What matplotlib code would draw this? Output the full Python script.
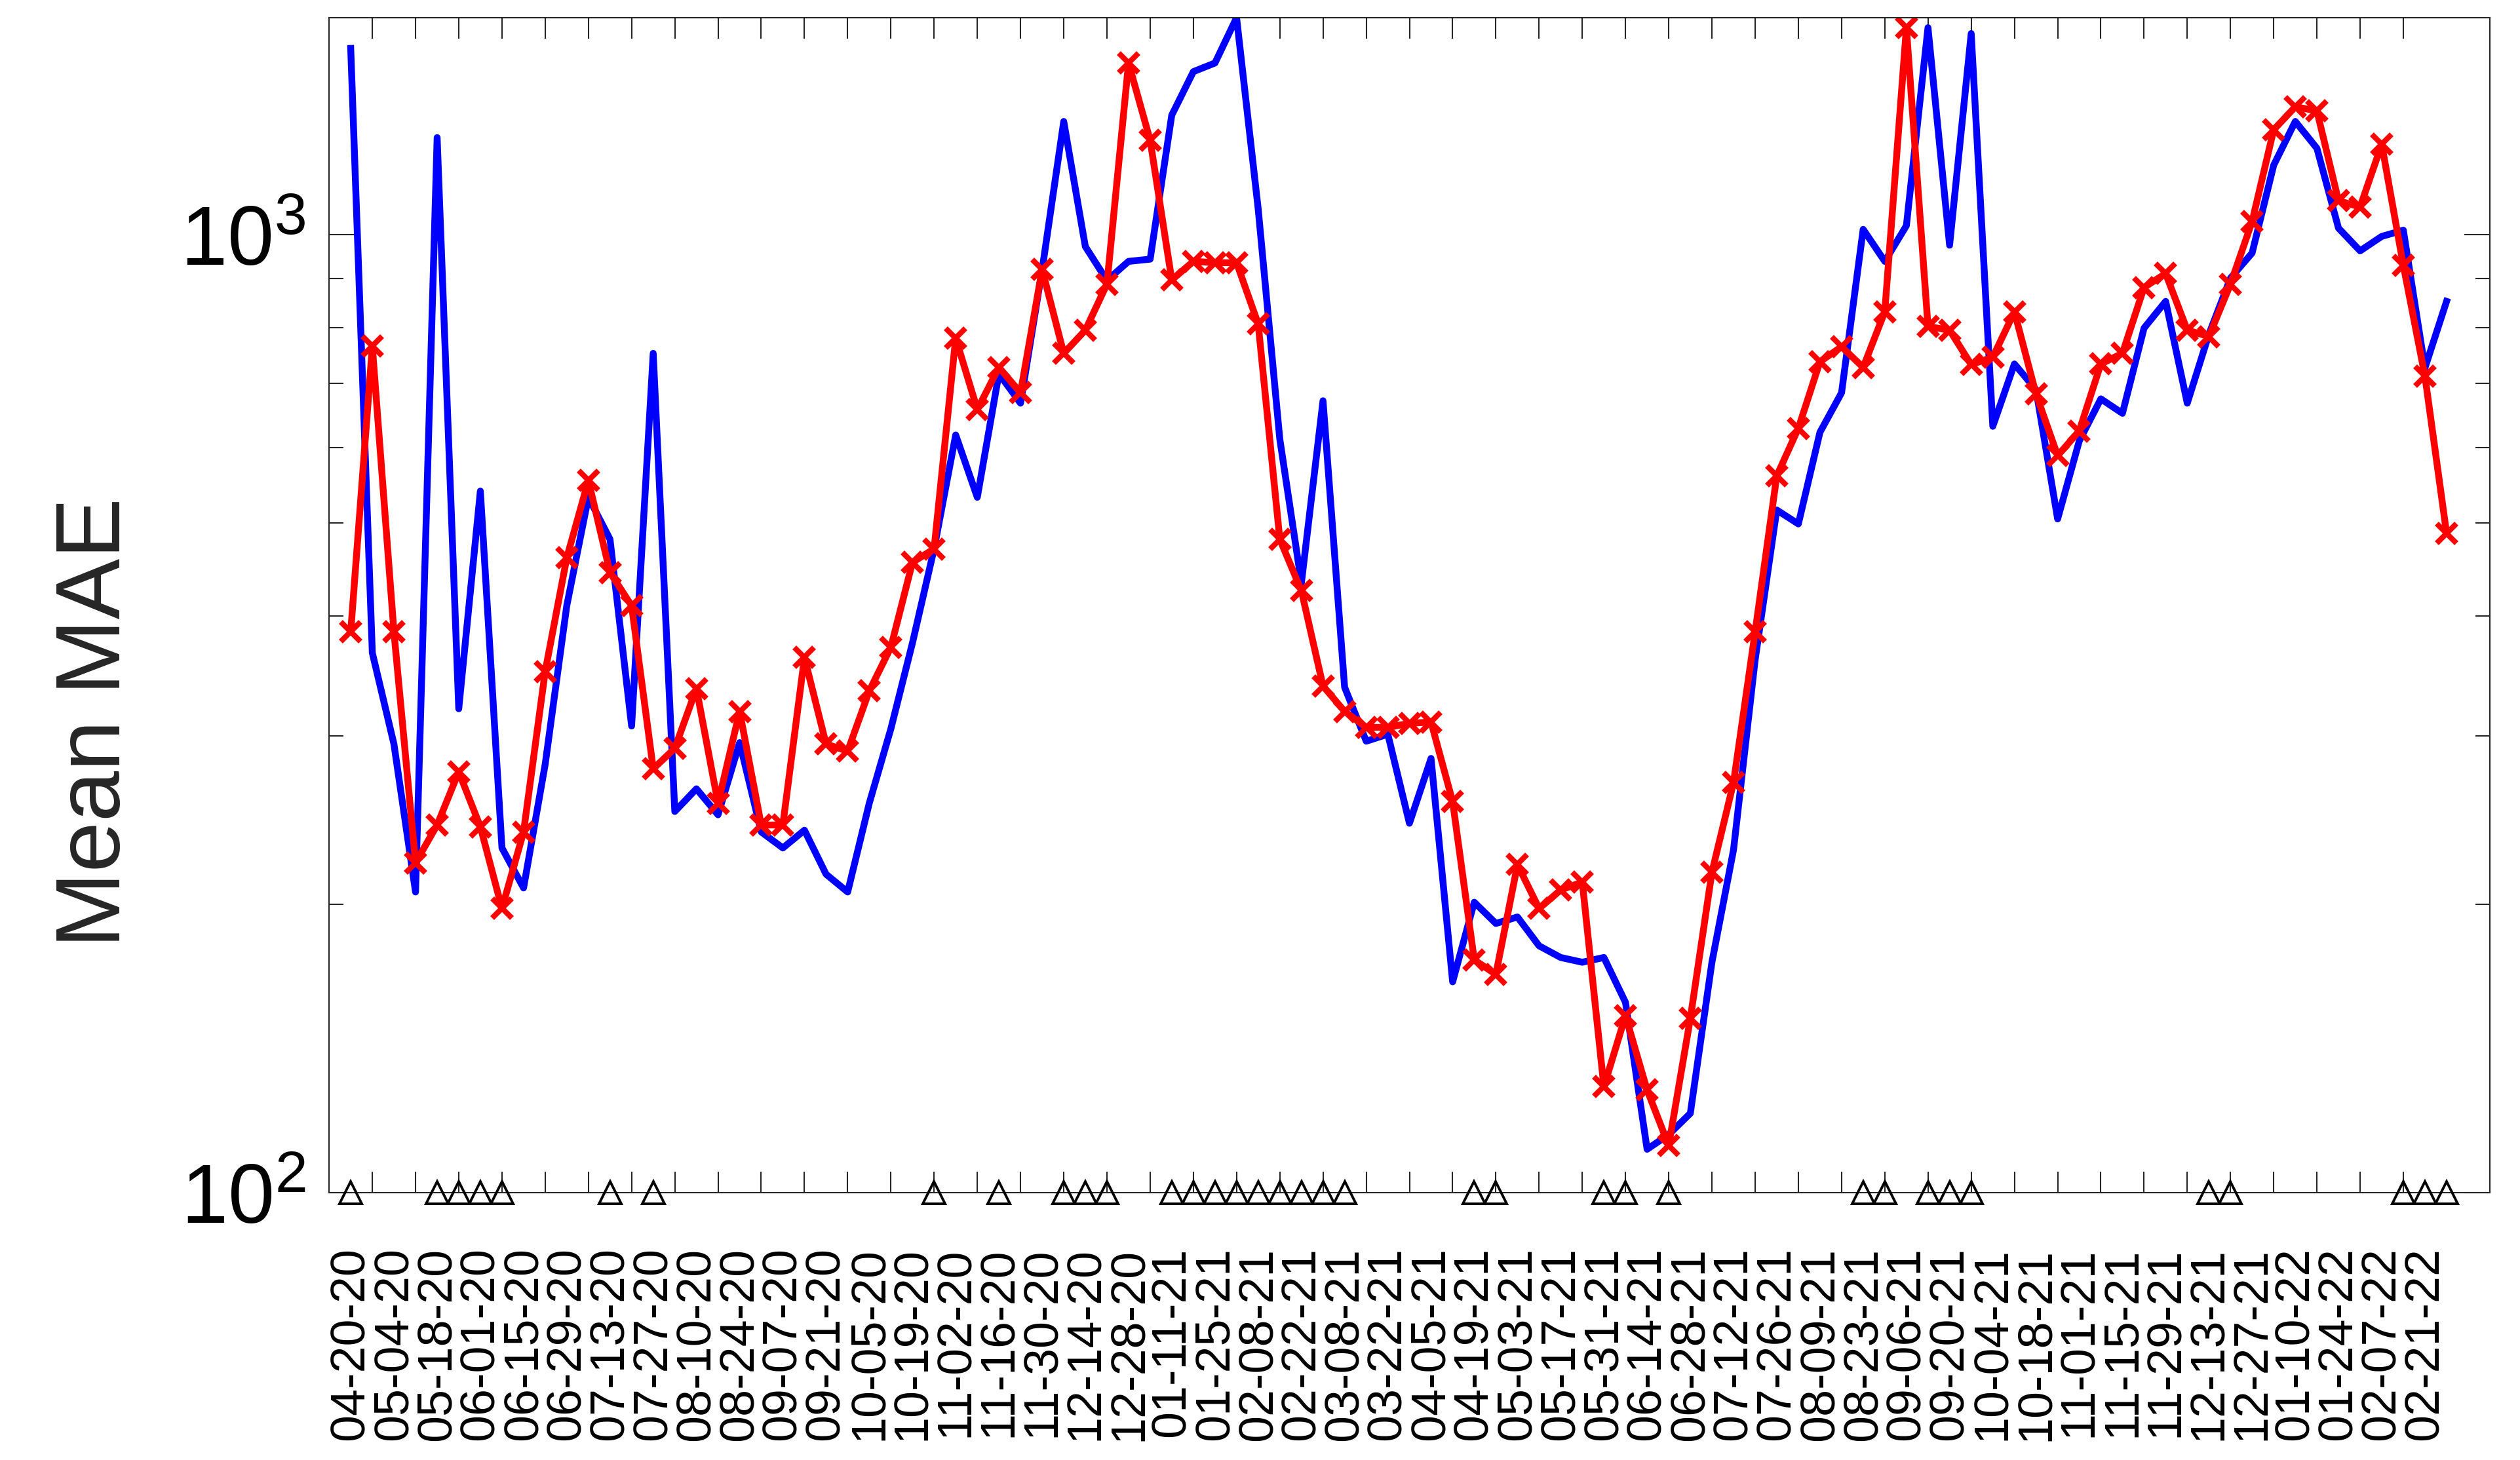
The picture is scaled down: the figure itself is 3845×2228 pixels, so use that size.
"""
weekly mean MAE of the two models, log scale
"""

import numpy as np
import matplotlib
matplotlib.use('Agg')
import matplotlib.pyplot as plt
from matplotlib.ticker import FixedLocator, NullFormatter

plt.rcParams['font.family'] = ['Liberation Sans', 'DejaVu Sans']
plt.rcParams['mathtext.fontset'] = 'custom'
plt.rcParams['mathtext.rm'] = 'Liberation Sans'
plt.rcParams['mathtext.default'] = 'regular'

week_labels = [
    "04-20-20", "05-04-20", "05-18-20", "06-01-20", "06-15-20", "06-29-20",
    "07-13-20", "07-27-20", "08-10-20", "08-24-20", "09-07-20", "09-21-20",
    "10-05-20", "10-19-20", "11-02-20", "11-16-20", "11-30-20", "12-14-20",
    "12-28-20", "01-11-21", "01-25-21", "02-08-21", "02-22-21", "03-08-21",
    "03-22-21", "04-05-21", "04-19-21", "05-03-21", "05-17-21", "05-31-21",
    "06-14-21", "06-28-21", "07-12-21", "07-26-21", "08-09-21", "08-23-21",
    "09-06-21", "09-20-21", "10-04-21", "10-18-21", "11-01-21", "11-15-21",
    "11-29-21", "12-13-21", "12-27-21", "01-10-22", "01-24-22", "02-07-22",
    "02-21-22",
]

# one value per week, starting 04-20-20
blue_mae = [
    1565, 366, 294, 206, 1263, 320, 540, 229, 208, 280,
    410, 532, 481, 307, 752, 250, 264, 248, 295, 238,
    229, 239, 215, 206, 255, 305, 375, 470, 618, 532,
    716, 667, 919, 1313, 972, 896, 938, 943, 1333, 1480,
    1511, 1685, 1064, 612, 433, 671, 337, 296, 301, 243,
    284, 166, 201, 191, 194, 181, 176, 174, 176, 158,
    111, 115, 121, 174, 228, 360, 516, 499, 622, 684,
    1013, 938, 1022, 1645, 975, 1622, 631, 733, 689, 505,
    609, 674, 651, 799, 852, 667, 787, 901, 957, 1182,
    1313, 1231, 1016, 962, 996, 1011, 726, 852,
]

red_mae = [
    385, 765, 385, 221, 242, 275, 241, 198, 238, 350,
    460, 554, 444, 410, 277, 291, 336, 255, 318, 242,
    242, 362, 294, 289, 334, 371, 455, 470, 780, 657,
    727, 684, 920, 752, 795, 888, 1511, 1255, 897, 938,
    935, 935, 807, 481, 425, 338, 318, 306, 306, 309,
    310, 256, 175, 169, 220, 198, 207, 211, 129, 153,
    128, 112, 152, 216, 268, 385, 560, 628, 737, 764,
    727, 831, 1645, 802, 795, 732, 745, 831, 682, 588,
    624, 733, 752, 881, 911, 795, 783, 888, 1032, 1287,
    1360, 1347, 1085, 1069, 1243, 929, 712, 488,
]

# weeks marked with a triangle on the bottom axis
flag_weeks = [0, 4, 5, 6, 7, 12, 14, 27, 30, 33, 34, 35,
              38, 39, 40, 41, 42, 43, 44, 45, 46, 52, 53, 58, 59, 61,
              70, 71, 73, 74, 75, 86, 87, 95, 96, 97]

weeks = np.arange(len(blue_mae))
label_pos = np.arange(0, 2 * len(week_labels), 2)
edge = '#262626'

fig = plt.figure(figsize=(38.45, 22.28), dpi=100)
ax = fig.add_axes([0.1306, 0.1831, 0.8574, 0.8048])

ax.plot(weeks, blue_mae, color='b', lw=7.5)
ax.plot(weeks, red_mae, color='r', lw=7.5, marker='x', ms=22, mew=6)
ax.plot(flag_weeks, [100] * len(flag_weeks), linestyle='none', marker='^',
        mfc='none', mec='k', ms=25, mew=2.8, clip_on=False, zorder=5)

ax.set_yscale('log')
ax.set_ylim(100, 1685)
ax.set_xlim(-1, 99)

ax.yaxis.set_major_locator(FixedLocator([100, 1000]))
ax.yaxis.set_minor_locator(FixedLocator([200, 300, 400, 500, 600, 700, 800, 900]))
ax.yaxis.set_minor_formatter(NullFormatter())
ax.set_yticklabels(['$10^{2}$', '$10^{3}$'])

ax.set_xticks(label_pos)
ax.set_xticklabels(week_labels, rotation=90)
ax.xaxis.set_minor_locator(FixedLocator(np.arange(1, 96, 2)))

ax.tick_params(axis='x', which='major', length=0, pad=60, labelsize=53)
ax.tick_params(axis='x', which='minor', direction='in', length=23, width=1.5,
               top=True, bottom=True, color=edge)
ax.tick_params(axis='y', which='major', direction='in', length=28, width=1.5,
               left=True, right=True, pad=26, labelsize=92, color=edge)
ax.tick_params(axis='y', which='minor', direction='in', length=16, width=1.5,
               left=True, right=True, color=edge)

for spine in ax.spines.values():
    spine.set_linewidth(1.5)
    spine.set_color(edge)

ax.set_ylabel('Mean MAE', fontsize=100, color=edge)
ax.yaxis.set_label_coords(-0.088, 0.40)

fig.savefig('out.png', dpi=100)
